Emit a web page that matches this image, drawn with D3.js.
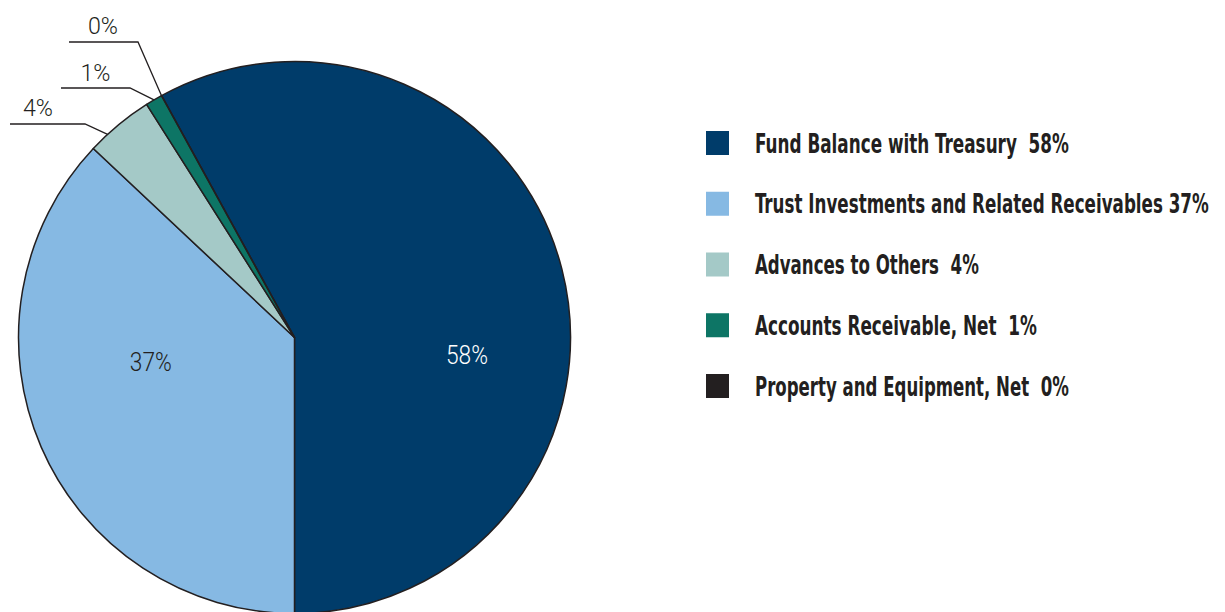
<!DOCTYPE html>
<html>
<head>
<meta charset="utf-8">
<script src="https://cdn.jsdelivr.net/npm/d3@7"></script>
<style>
  html, body { margin: 0; padding: 0; background: #ffffff; }
  svg { display: block; }
  text { white-space: pre; }
</style>
</head>
<body>
<svg id="chart" width="1225" height="612"></svg>
<script>
// Asset composition (percent of total)
const categories = [
  "Fund Balance with Treasury",
  "Trust Investments and Related Receivables",
  "Advances to Others",
  "Accounts Receivable, Net",
  "Property and Equipment, Net"
];
const values = [58, 37, 4, 1, 0];
const legendLabels = [
  "Fund Balance with Treasury  58%",
  "Trust Investments and Related Receivables 37%",
  "Advances to Others  4%",
  "Accounts Receivable, Net  1%",
  "Property and Equipment, Net  0%"
];
const sliceLabels = ["58%", "37%", "4%", "1%", "0%"];
const colors = ["#003c6a", "#86b9e3", "#a4c9c7", "#0d7565", "#231f20"];

// Layout
const cx = 294.5, cy = 337.5, R = 276;
const ink = "#231f20";
const bodyFont = "'DejaVu Sans Condensed', 'DejaVu Sans', sans-serif";
const lightFont = "Roboto, 'DejaVu Sans Condensed', sans-serif";

// inside labels: position along the slice (fraction of its sweep) and radius fraction
const insideLabel = { 0: { t: 0.596, r: 0.628, fill: "#ffffff" }, 1: { t: 0.603, r: 0.528, fill: ink } };
// outside labels: anchor fraction within the slice, elbow point and text centre
const outsideLabel = {
  2: { t: 0.29, elbow: [85, 124], start: 10, text: [38, 116] },
  3: { t: 0.5, elbow: [130, 88], start: 61, text: [95.5, 81] },
  4: { t: 0.5, elbow: [138, 42], start: 69, text: [103, 34] }
};
const legendWidths = [314, 454, 224, 282, 314];

// squeeze a text horizontally so that it spans the given width
function fitWidth(sel, x, y, width) {
  const w = sel.node().getComputedTextLength();
  const s = w > 0 ? width / w : 1;
  sel.attr("x", 0).attr("y", 0)
     .attr("transform", `translate(${x},${y}) scale(${s},1)`);
}

const svg = d3.select("#chart");
const total = d3.sum(values);
// first slice finishes at six o'clock, slices run clockwise
const a0 = Math.PI - 2 * Math.PI * values[0] / total;
const pie = d3.pie().sort(null).value(d => d).startAngle(a0).endAngle(a0 + 2 * Math.PI);
const arcs = pie(values);
const arc = d3.arc().innerRadius(0).outerRadius(R);

const g = svg.append("g").attr("transform", `translate(${cx},${cy})`);

g.selectAll("path.slice")
  .data(arcs)
  .join("path")
  .attr("class", "slice")
  .attr("d", arc)
  .attr("fill", (d, i) => colors[i])
  .attr("stroke", ink)
  .attr("stroke-width", 1.5)
  .attr("stroke-linejoin", "round");

const polar = (ang, r) => [r * Math.sin(ang), -r * Math.cos(ang)];

// labels inside the two large slices
arcs.forEach((d, i) => {
  const cfg = insideLabel[i];
  if (!cfg) return;
  const ang = d.startAngle + cfg.t * (d.endAngle - d.startAngle);
  const [x, y] = polar(ang, cfg.r * R);
  const t = g.append("text")
    .attr("text-anchor", "middle")
    .attr("font-family", lightFont)
    .attr("font-weight", 300)
    .attr("font-size", 25.5)
    .attr("fill", cfg.fill)
    .text(sliceLabels[i]);
  fitWidth(t, x, y + 9.2, 42);
});

// leader lines and labels for the small slices
arcs.forEach((d, i) => {
  const cfg = outsideLabel[i];
  if (!cfg) return;
  const ang = d.startAngle + cfg.t * (d.endAngle - d.startAngle);
  const [px, py] = polar(ang, R);
  const pts = [[cfg.start, cfg.elbow[1]], cfg.elbow, [cx + px, cy + py]];
  svg.append("path")
    .attr("d", d3.line()(pts))
    .attr("fill", "none")
    .attr("stroke", ink)
    .attr("stroke-width", 1.3);
  const t = svg.append("text")
    .attr("text-anchor", "middle")
    .attr("font-family", lightFont)
    .attr("font-weight", 300)
    .attr("font-size", 24.5)
    .attr("fill", ink)
    .text(sliceLabels[i]);
  fitWidth(t, cfg.text[0], cfg.text[1], 30);
});

// legend
const legendY = d3.scalePoint().domain(d3.range(categories.length)).range([131, 374]);
const lg = svg.append("g");
categories.forEach((c, i) => {
  const y = legendY(i);
  lg.append("rect")
    .attr("x", 706).attr("y", y)
    .attr("width", 23).attr("height", 24)
    .attr("fill", colors[i]);
  const t = lg.append("text")
    .attr("font-family", bodyFont)
    .attr("font-weight", "bold")
    .attr("font-size", 26)
    .attr("fill", ink)
    .text(legendLabels[i]);
  fitWidth(t, 755, y + 21.5, legendWidths[i]);
});
</script>
</body>
</html>
